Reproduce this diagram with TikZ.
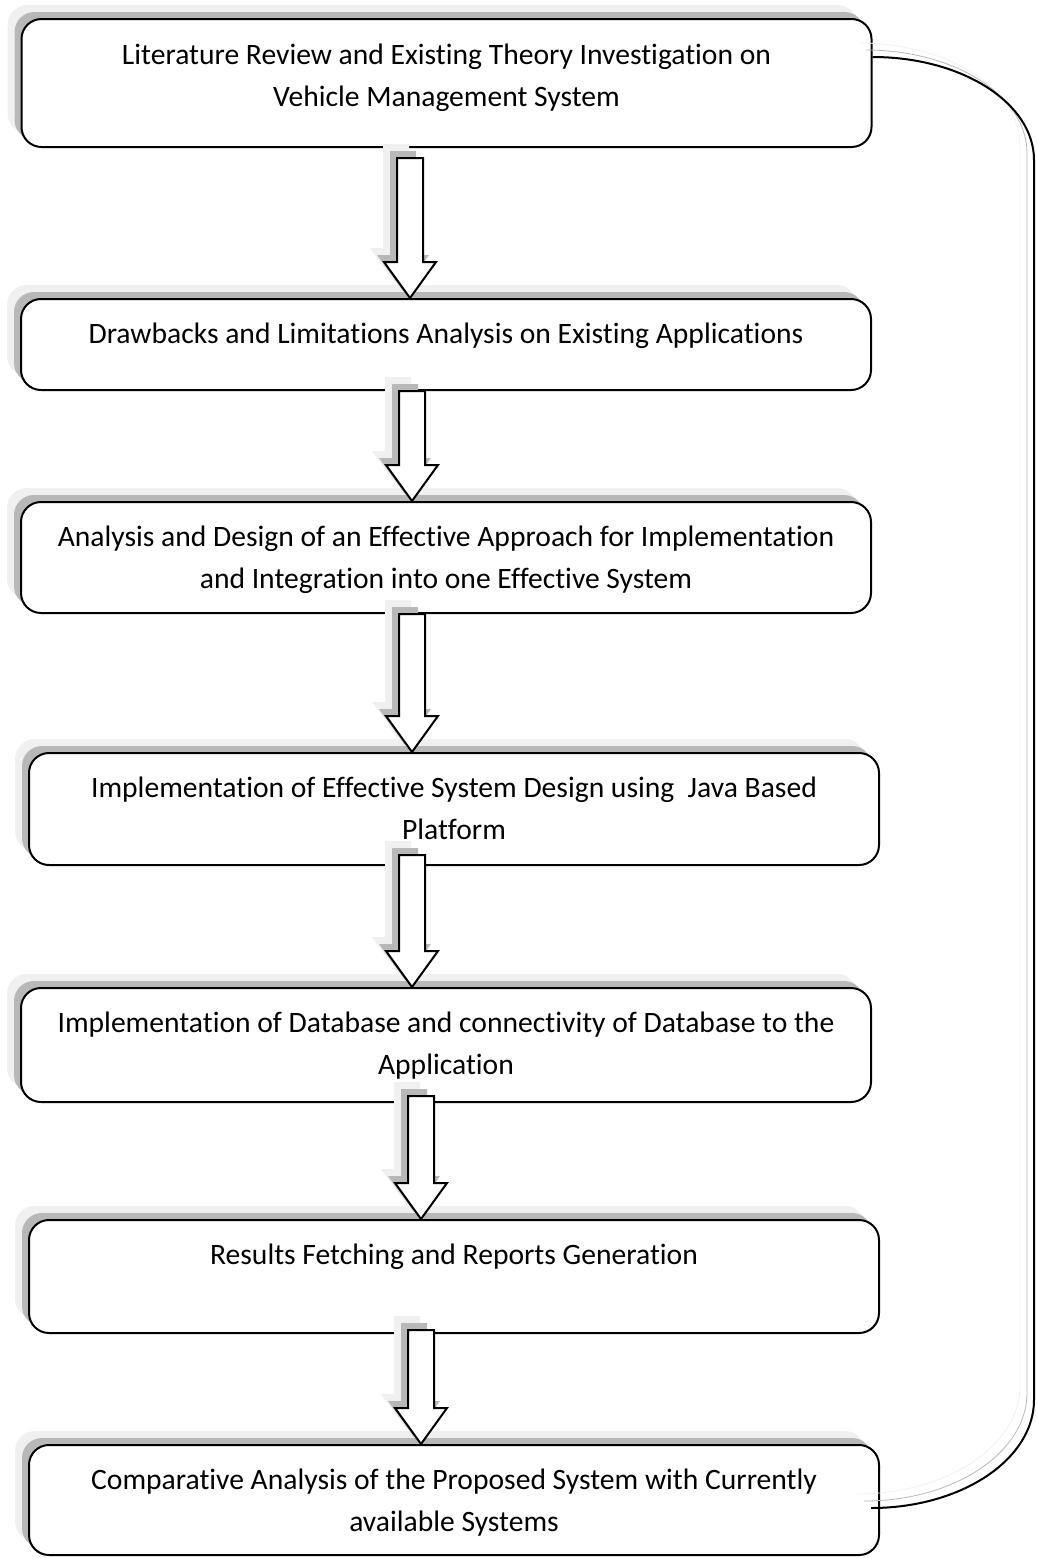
\documentclass[tikz,border=0pt]{standalone}
\usepackage{fontspec}
\setmainfont{Carlito}[Ligatures=NoCommon]
\usetikzlibrary{positioning,calc,shadows}
\definecolor{shadowmid}{gray}{0.72}
\definecolor{shadowlight}{gray}{0.94}
\tikzset{
	wordshadow/.style = {general shadow={#1=shadowlight, shadow xshift=-7pt, shadow yshift=7pt},
		general shadow={#1=shadowmid, shadow xshift=-3.5pt, shadow yshift=3.5pt}},
	stepbox/.style = {draw=black, line width=1pt, fill=white, rounded corners=10pt,
		minimum width=425pt, inner sep=0pt, wordshadow=fill},
	steptext/.style = {align=center, inner sep=0pt,
		font=\fontsize{14.8pt}{21pt}\selectfont},
	blockarr/.style = {draw=black, line width=1pt, fill=white, line join=miter, wordshadow=fill},
	loopline/.style = {draw=black, line width=1pt, wordshadow=draw}
}
\newcommand\blockarrow[2]{%
	\draw[blockarr] let \p1 = (#1), \p2 = (#2) in
		(\x1-6.5pt,\y1) -- (\x1+6.5pt,\y1) -- (\x1+6.5pt,\y2+18pt)
		-- (\x1+13pt,\y2+18pt) -- (\x2,\y2) -- (\x1-13pt,\y2+18pt)
		-- (\x1-6.5pt,\y2+18pt) -- cycle;}

\begin{document}
\begin{tikzpicture}[x=0.5pt, y=-0.5pt]
\useasboundingbox (0,0) rectangle (1037,1558);

% boxes
\node[stepbox, minimum height=64pt] (b1) at (446.5,83) {};
\node[stepbox, minimum height=45.5pt] (b2) at (446,344.5) {};
\node[stepbox, minimum height=55.5pt] (b3) at (446,557.5) {};
\node[stepbox, minimum height=56pt] (b4) at (454,809) {};
\node[stepbox, minimum height=57pt] (b5) at (446,1045) {};
\node[stepbox, minimum height=56.5pt] (b6) at (454,1276.5) {};
\node[stepbox, minimum height=55pt] (b7) at (454,1500) {};

% texts
\node[steptext, below=13pt of b1.north] (t1) {Literature Review and Existing Theory Investigation on\\Vehicle Management System};
\node[steptext, below=12.5pt of b2.north] (t2) {Drawbacks and Limitations Analysis on Existing Applications};
\node[steptext, below=12.5pt of b3.north] (t3) {Analysis and Design of an Effective Approach for Implementation\\and Integration into one Effective System};
\node[steptext, below=12.5pt of b4.north] (t4) {Implementation of Effective System Design using\ \ Java Based\\Platform};
\node[steptext, below=12.5pt of b5.north] (t5) {Implementation of Database and connectivity of Database to the\\Application};
\node[steptext, below=12.5pt of b6.north] (t6) {Results Fetching and Reports Generation};
\node[steptext, below=12.5pt of b7.north] (t7) {Comparative Analysis of the Proposed System with Currently\\available Systems};

% block arrows
\coordinate (a1s) at (410,158);
\coordinate (a2s) at (412,391);
\coordinate (a3s) at (412,614);
\coordinate (a4s) at (412,855);
\coordinate (a5s) at (421,1096);
\coordinate (a6s) at (421,1330);
\foreach \s/\t in {a1s/b2, a2s/b3, a3s/b4, a4s/b5, a5s/b6, a6s/b7}
	\blockarrow{\s}{\t.north -| \s};

% loop back
\coordinate (loopend) at (871,1508);
\draw[loopline] ([yshift=13pt]b1.east) .. controls (962,57) and (1034,103) .. (1034,160)
	-- (1034,1400) .. controls (1034,1459) and (962,1508) .. (loopend);
\end{tikzpicture}
\end{document}
